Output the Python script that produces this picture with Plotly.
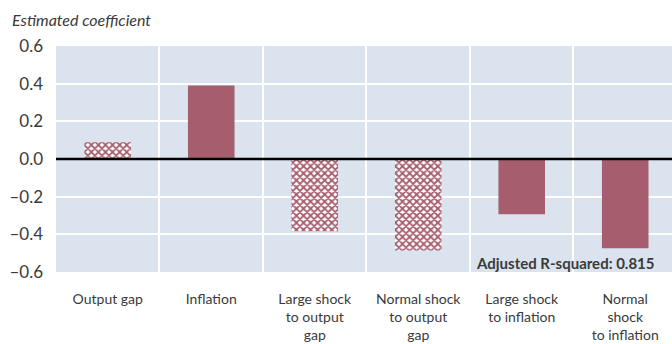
import plotly.graph_objects as go

# Regression coefficients by explanatory variable
categories = [
    "Output gap",
    "Inflation",
    "Large shock<br>to output<br>gap",
    "Normal shock<br>to output<br>gap",
    "Large shock<br>to inflation",
    "Normal<br>shock<br>to inflation",
]
coefficients = [0.09, 0.39, -0.383, -0.486, -0.293, -0.474]
# True where the estimate is not statistically significant (hatched bars)
insignificant = [True, False, True, True, False, False]

y_tickvals = [0.6, 0.4, 0.2, 0.0, -0.2, -0.4, -0.6]
y_ticktext = ["0.6", "0.4", "0.2", "0.0", "\u20130.2", "\u20130.4", "\u20130.6"]

r_squared_label = "Adjusted R-squared: 0.815"

BAR = "#A65E6F"
BG = "#DAE3EE"
TEXT = "#3a3a3a"
FONT = "Lato"

fig = go.Figure()
fig.add_trace(
    go.Bar(
        x=categories,
        y=coefficients,
        width=0.45,
        marker=dict(
            color=BAR,
            line=dict(width=0),
            pattern=dict(
                shape=[("x" if s else "") for s in insignificant],
                fgcolor=BAR,
                bgcolor="white",
                size=5,
                solidity=0.6,
                fillmode="replace",
            ),
        ),
        showlegend=False,
        hoverinfo="x+y",
    )
)

fig.add_shape(
    type="line", xref="paper", yref="y", x0=0, x1=1, y0=0, y1=0,
    line=dict(color="black", width=2.5), layer="above",
)

fig.add_annotation(
    text="<b>" + r_squared_label + "</b>",
    xref="paper", yref="y", x=0.975, y=-0.55,
    xanchor="right", yanchor="middle", showarrow=False,
    font=dict(family=FONT, size=15, color=TEXT),
)

fig.add_annotation(
    text="<i>Estimated coefficient</i>",
    xref="paper", yref="paper", x=-0.075, y=1.0, yshift=27,
    xanchor="left", yanchor="middle", showarrow=False,
    font=dict(family=FONT, size=16, color=TEXT),
)

fig.update_layout(
    width=672,
    height=344,
    margin=dict(l=56, r=0, t=46, b=72),
    paper_bgcolor="white",
    plot_bgcolor=BG,
    font=dict(family=FONT, color=TEXT),
    xaxis=dict(
        type="category",
        tickson="boundaries",
        showgrid=True,
        gridcolor="white",
        gridwidth=2,
        range=[-0.5, 5.452],
        ticks="",
        ticklabelstandoff=17,
        tickfont=dict(family=FONT, size=14, color=TEXT),
        showline=False,
        zeroline=False,
    ),
    yaxis=dict(
        range=[-0.6, 0.6],
        tickvals=y_tickvals,
        ticktext=y_ticktext,
        showgrid=True,
        gridcolor="white",
        gridwidth=2,
        zeroline=False,
        ticks="",
        ticklabelstandoff=12,
        tickfont=dict(family=FONT, size=17, color=TEXT),
        showline=False,
    ),
    bargap=0.55,
)

fig.write_html("out.html")
